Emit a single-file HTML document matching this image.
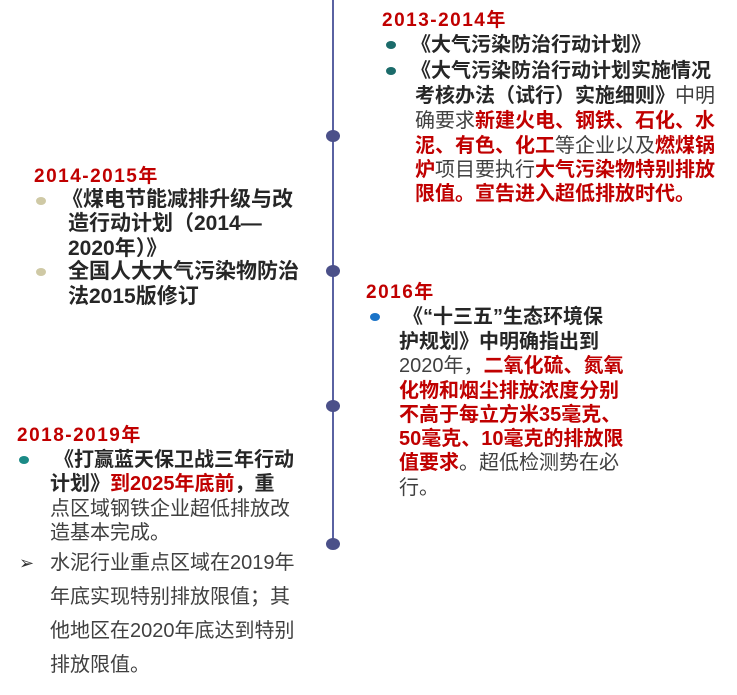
<!DOCTYPE html>
<html><head><meta charset="utf-8"><style>
body{margin:0;width:737px;height:695px;background:#fff;position:relative;overflow:hidden;font-family:"Liberation Sans","Noto Sans CJK SC",sans-serif;}
.t{position:absolute;white-space:nowrap;line-height:24px;font-size:20px;color:#404040;}
.b{font-weight:bold;color:#262626}
.r{font-weight:bold;color:#c00000}
.h{position:absolute;white-space:nowrap;font-weight:bold;color:#c00000;font-size:19px;line-height:20px;letter-spacing:1.5px}
.d{position:absolute;width:10px;height:8px;border-radius:50%}
.n{position:absolute;left:326px;width:14px;height:12px;border-radius:50%;background:#4b5089}
</style></head><body>
<div style="position:absolute;left:332px;top:0;width:2px;height:545px;background:#5a62a2"></div>
<div class="n" style="top:130px"></div>
<div class="n" style="top:265px"></div>
<div class="n" style="top:400px"></div>
<div class="n" style="top:538px"></div>

<div class="h" style="left:382px;top:11px">2013-2014年</div>
<div class="d" style="left:386px;top:41px;background:#1b6b6a"></div>
<div class="d" style="left:386px;top:67px;background:#1b6b6a"></div>
<div class="t b" style="left:411px;top:33px">《大气污染防治行动计划》</div>
<div class="t b" style="left:411px;top:59px">《大气污染防治行动计划实施情况</div>
<div class="t" style="left:415px;top:84px"><span class="b">考核办法（试行）实施细则》</span>中明</div>
<div class="t" style="left:415px;top:109px">确要求<span class="r">新建火电、钢铁、石化、水</span></div>
<div class="t" style="left:415px;top:134px"><span class="r">泥、有色、化工</span>等企业以及<span class="r">燃煤锅</span></div>
<div class="t" style="left:415px;top:158px"><span class="r">炉</span>项目要执行<span class="r">大气污染物特别排放</span></div>
<div class="t r" style="left:415px;top:182px">限值。宣告进入超低排放时代。</div>

<div class="h" style="left:34px;top:167px">2014-2015年</div>
<div class="d" style="left:36px;top:197px;background:#cfc9a5"></div>
<div class="d" style="left:36px;top:268px;background:#cfc9a5"></div>
<div class="t b" style="left:62px;top:188px;font-size:21px">《煤电节能减排升级与改</div>
<div class="t b" style="left:68px;top:212px;font-size:21px">造行动计划（2014—</div>
<div class="t b" style="left:68px;top:237px;font-size:21px">2020年）》</div>
<div class="t b" style="left:68px;top:260px;font-size:21px">全国人大大气污染物防治</div>
<div class="t b" style="left:68px;top:285px;font-size:21px">法2015版修订</div>

<div class="h" style="left:366px;top:283px">2016年</div>
<div class="d" style="left:370px;top:313px;background:#1a73c8"></div>
<div class="t b" style="left:403px;top:305px">《“十三五”生态环境保</div>
<div class="t b" style="left:399px;top:330px">护规划》中明确指出到</div>
<div class="t" style="left:399px;top:354px">2020年，<span class="r">二氧化硫、氮氧</span></div>
<div class="t r" style="left:399px;top:379px">化物和烟尘排放浓度分别</div>
<div class="t r" style="left:399px;top:403px">不高于每立方米35毫克、</div>
<div class="t r" style="left:399px;top:427px">50毫克、10毫克的排放限</div>
<div class="t" style="left:399px;top:451px"><span class="r">值要求</span>。超低检测势在必</div>
<div class="t" style="left:399px;top:476px">行。</div>

<div class="h" style="left:17px;top:426px">2018-2019年</div>
<div class="d" style="left:19px;top:456px;background:#1b8a86"></div>
<div class="t b" style="left:54px;top:448px">《打赢蓝天保卫战三年行动</div>
<div class="t" style="left:50px;top:472px"><span class="b">计划》</span><span class="r">到2025年底前</span><span class="b">，重</span></div>
<div class="t" style="left:50px;top:497px">点区域钢铁企业超低排放改</div>
<div class="t" style="left:50px;top:521px">造基本完成。</div>
<div class="t" style="left:19px;top:551px;font-size:18px;color:#333">➢</div>
<div class="t" style="left:50px;top:551px">水泥行业重点区域在2019年</div>
<div class="t" style="left:50px;top:585px">年底实现特别排放限值；其</div>
<div class="t" style="left:50px;top:619px">他地区在2020年底达到特别</div>
<div class="t" style="left:50px;top:653px">排放限值。</div>
</body></html>
